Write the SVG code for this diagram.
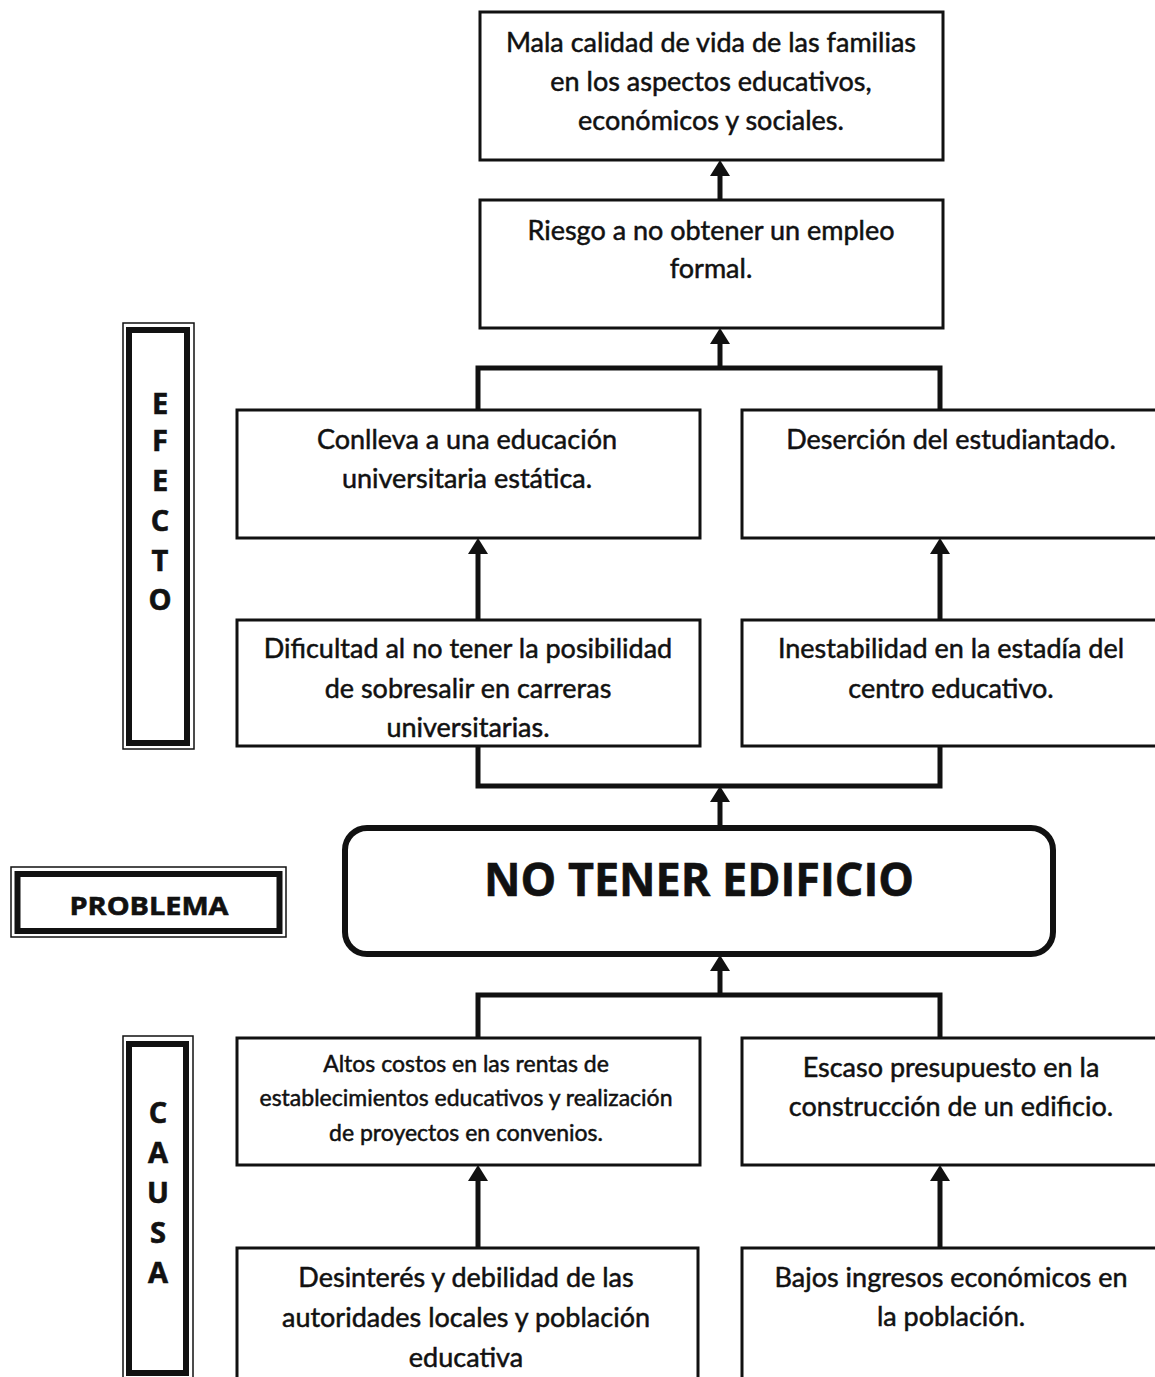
<svg xmlns="http://www.w3.org/2000/svg" width="1155" height="1377" viewBox="0 0 1155 1377">
<style>
.box{fill:#fff;stroke:#111;stroke-width:3}
.pbox{fill:#fff;stroke:#111;stroke-width:6}
.thin{fill:none;stroke:#111;stroke-width:1.5}
.thick{fill:#fff;stroke:#111;stroke-width:6}
.t{font-family:Lato,"Open Sans","Liberation Sans",sans-serif;font-size:27px;fill:#111;stroke:#111;stroke-width:0.5;text-anchor:middle}
.s{font-size:23px}
.b{font-family:"Open Sans",Lato,"Liberation Sans",sans-serif;font-weight:bold;fill:#111;stroke:#111;stroke-width:0.6;text-anchor:middle}
.c{fill:none;stroke:#111;stroke-width:5}
</style>
<defs>
<marker id="ah" markerUnits="userSpaceOnUse" markerWidth="16" markerHeight="20" refX="0" refY="10" orient="auto" overflow="visible">
<path d="M0,0 L16,10 L0,20 z" fill="#111"/>
</marker>
</defs>
<rect width="1155" height="1377" fill="#fff"/>

<g id="connectors">
<line class="c" x1="720" y1="200" x2="720" y2="176" marker-end="url(#ah)"/>
<line class="c" x1="720" y1="368" x2="720" y2="344" marker-end="url(#ah)"/>
<path class="c" d="M478,410 V368 H940 V410"/>
<line class="c" x1="478" y1="620" x2="478" y2="554" marker-end="url(#ah)"/>
<line class="c" x1="940" y1="620" x2="940" y2="554" marker-end="url(#ah)"/>
<path class="c" d="M478,746 V786 H940 V746"/>
<line class="c" x1="720" y1="826" x2="720" y2="802" marker-end="url(#ah)"/>
<line class="c" x1="720" y1="995" x2="720" y2="971" marker-end="url(#ah)"/>
<path class="c" d="M478,1038 V995 H940 V1038"/>
<line class="c" x1="478" y1="1248" x2="478" y2="1181" marker-end="url(#ah)"/>
<line class="c" x1="940" y1="1248" x2="940" y2="1181" marker-end="url(#ah)"/>
</g>

<g id="efecto-label">
<rect class="thin" x="123" y="323" width="71" height="426"/>
<rect class="thick" x="129" y="330" width="58" height="413"/>
<text class="b" font-size="29" x="160" y="414">E</text>
<text class="b" font-size="29" x="160" y="451">F</text>
<text class="b" font-size="29" x="160" y="491">E</text>
<text class="b" font-size="29" x="160" y="531">C</text>
<text class="b" font-size="29" x="160" y="571">T</text>
<text class="b" font-size="29" x="160" y="610">O</text>
</g>

<g id="problema-label">
<rect class="thin" x="11" y="867" width="275" height="70"/>
<rect class="thick" x="17.5" y="874" width="262" height="57"/>
<text class="b" font-size="25" x="149" y="915" textLength="159" lengthAdjust="spacingAndGlyphs">PROBLEMA</text>
</g>

<g id="causa-label">
<rect class="thin" x="123" y="1036" width="70" height="345"/>
<rect class="thick" x="129" y="1044" width="57" height="329"/>
<text class="b" font-size="29" x="158" y="1123">C</text>
<text class="b" font-size="29" x="158" y="1163">A</text>
<text class="b" font-size="29" x="158" y="1203">U</text>
<text class="b" font-size="29" x="158" y="1243">S</text>
<text class="b" font-size="29" x="158" y="1283">A</text>
</g>

<g id="e1">
<rect class="box" x="480" y="12" width="463" height="148"/>
<text class="t" x="711" y="52">Mala calidad de vida de las familias</text>
<text class="t" x="711" y="91">en los aspectos educativos,</text>
<text class="t" x="711" y="130">económicos y sociales.</text>
</g>

<g id="e2">
<rect class="box" x="480" y="200" width="463" height="128"/>
<text class="t" x="711" y="240">Riesgo a no obtener un empleo</text>
<text class="t" x="711" y="278">formal.</text>
</g>

<g id="e3a">
<rect class="box" x="237" y="410" width="463" height="128"/>
<text class="t" x="467" y="449">Conlleva a una educación</text>
<text class="t" x="467" y="488">universitaria estática.</text>
</g>

<g id="e3b">
<rect class="box" x="742" y="410" width="420" height="128"/>
<text class="t" x="951" y="449">Deserción del estudiantado.</text>
</g>

<g id="e4a">
<rect class="box" x="237" y="620" width="463" height="126"/>
<text class="t" x="468" y="658">Dificultad al no tener la posibilidad</text>
<text class="t" x="468" y="698">de sobresalir en carreras</text>
<text class="t" x="468" y="737">universitarias.</text>
</g>

<g id="e4b">
<rect class="box" x="742" y="620" width="420" height="126"/>
<text class="t" x="951" y="658">Inestabilidad en la estadía del</text>
<text class="t" x="951" y="698">centro educativo.</text>
</g>

<g id="problem">
<rect class="pbox" x="345" y="828" width="708" height="126" rx="22"/>
<text class="b" font-size="46" x="699" y="896" textLength="430" lengthAdjust="spacingAndGlyphs">NO TENER EDIFICIO</text>
</g>

<g id="c1a">
<rect class="box" x="237" y="1038" width="463" height="127"/>
<text class="t s" x="466" y="1072">Altos costos en las rentas de</text>
<text class="t s" x="466" y="1106">establecimientos educativos y realización</text>
<text class="t s" x="466" y="1141">de proyectos en convenios.</text>
</g>

<g id="c1b">
<rect class="box" x="742" y="1038" width="420" height="127"/>
<text class="t" x="951" y="1077">Escaso presupuesto en la</text>
<text class="t" x="951" y="1116">construcción de un edificio.</text>
</g>

<g id="c2a">
<rect class="box" x="237" y="1248" width="461" height="140"/>
<text class="t" x="466" y="1287">Desinterés y debilidad de las</text>
<text class="t" x="466" y="1327">autoridades locales y población</text>
<text class="t" x="466" y="1367">educativa</text>
</g>

<g id="c2b">
<rect class="box" x="742" y="1248" width="420" height="140"/>
<text class="t" x="951" y="1287">Bajos ingresos económicos en</text>
<text class="t" x="951" y="1326">la población.</text>
</g>
</svg>
